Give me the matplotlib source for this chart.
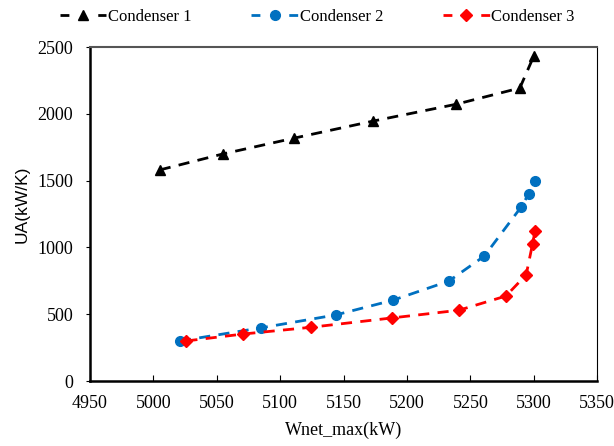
import numpy as np
import matplotlib.pyplot as plt

# Condenser 1
x1 = [5005, 5055, 5111, 5173, 5239, 5289, 5300]
ua1 = [1580, 1700, 1818, 1945, 2072, 2193, 2432]
# Condenser 2
x2 = [5021, 5085, 5144, 5189, 5233, 5261, 5290, 5296, 5301]
ua2 = [300, 398, 495, 605, 748, 935, 1302, 1400, 1497]
# Condenser 3
x3 = [5026, 5071, 5124, 5188, 5241, 5278, 5294, 5299, 5301]
ua3 = [300, 352, 402, 472, 530, 636, 795, 1025, 1123]

xticks = [4950, 5000, 5050, 5100, 5150, 5200, 5250, 5300, 5350]
yticks = [0, 500, 1000, 1500, 2000, 2500]

plt.rcParams['font.family'] = 'Liberation Serif'
plt.rcParams['font.size'] = 13

fig = plt.figure(figsize=(6.14, 4.46), dpi=100)
ax = fig.add_axes([0.1466, 0.1457, 0.826, 0.7489])

ax.plot(x1, ua1, '--', color='black', marker='^', markersize=7, lw=2, dashes=(4, 3), label='Condenser 1')
ax.plot(x2, ua2, '--', color='#0070C0', marker='o', markersize=7, lw=2, dashes=(4, 3), label='Condenser 2')
ax.plot(x3, ua3, '--', color='#FF0000', marker='D', markersize=6, lw=2, dashes=(4, 3), label='Condenser 3')

ax.set_xlim(4950, 5350)
ax.set_ylim(0, 2500)
ax.set_xticks(xticks)
ax.set_yticks(yticks)
ax.tick_params(axis='x', direction='in', length=4, pad=10)
ax.tick_params(axis='y', direction='out', length=3, pad=9)

ax.spines['left'].set_linewidth(1.8)
ax.spines['bottom'].set_linewidth(1.8)
ax.spines['top'].set_color('#555555')
ax.spines['top'].set_linewidth(1.5)
ax.spines['right'].set_linewidth(0.8)

ax.set_xlabel('Wnet_max(kW)', labelpad=7)
ax.set_ylabel('UA(kW/K)', family='Liberation Sans', fontsize=12.5, labelpad=6, y=0.53)

leg = ax.legend(loc='center left', bbox_to_anchor=(-0.06, 1.09), ncol=3, frameon=False,
                fontsize=12, handlelength=2.8, columnspacing=3.6, handletextpad=0.1,
                borderaxespad=0, borderpad=0)
# dash - marker - dash look in the legend
for ln in leg.get_lines():
    ln.set_dashes([3.2, 10.4])

fig.savefig('out.png', dpi=100)
